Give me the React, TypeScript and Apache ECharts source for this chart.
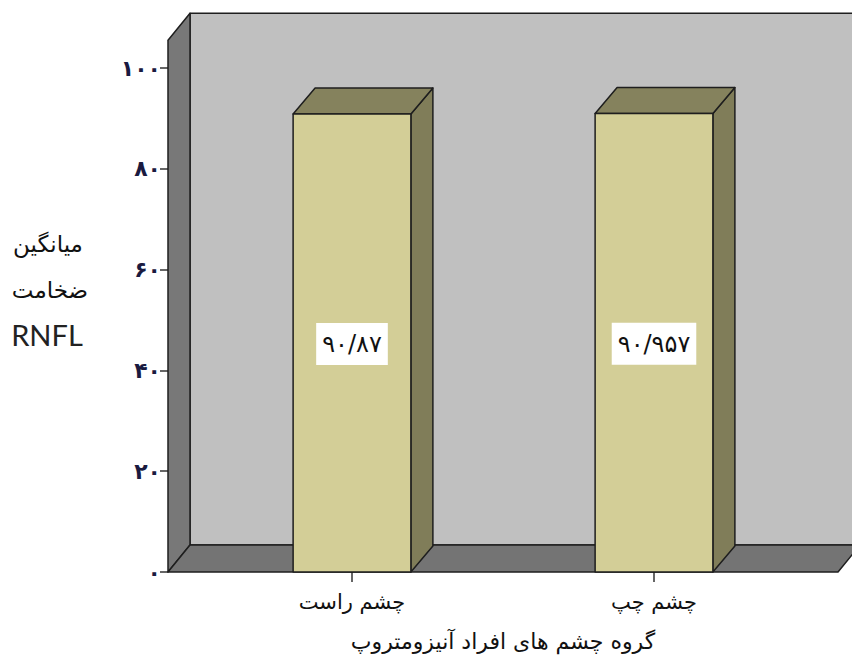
import React, { useEffect, useRef } from "react";
import * as echarts from "echarts";

const categories = ["چشم راست", "چشم چپ"];
const values = [90.87, 90.957];
const valueLabels = ["۹۰/۸۷", "۹۰/۹۵۷"];
const yTicks = [0, 20, 40, 60, 80, 100];
const xAxisTitle = "گروه چشم های افراد آنیزومتروپ";
const yAxisTitleLines = ["میانگین", "ضخامت", "RNFL"];
const WALL_TOP = 105.5;

const FA_DIGITS = ["۰", "۱", "۲", "۳", "۴", "۵", "۶", "۷", "۸", "۹"];
const toFa = (s: string) => s.replace(/[0-9]/g, (d) => FA_DIGITS[+d]);

const PERSIAN_FONT = "'DejaVu Sans', sans-serif";

export default function App() {
  const ref = useRef<HTMLDivElement>(null);
  useEffect(() => {
    document.body.style.margin = "0";
    if (!ref.current) return;
    const chart = echarts.init(ref.current, null, { renderer: "svg" });
    const DX = 22;
    const DY = -27;
    const EXT = 33;
    const option: any = {
      animation: false,
      backgroundColor: "#ffffff",
      grid: { left: 201, right: 47, top: 68, bottom: 86 },
      xAxis: {
        type: "category",
        data: categories,
        axisLine: { show: false },
        axisTick: { show: true, alignWithLabel: true, length: 10, lineStyle: { color: "#333", width: 1.5 } },
        axisLabel: { margin: 19, color: "#111", fontSize: 21, fontFamily: PERSIAN_FONT },
        name: xAxisTitle,
        nameLocation: "middle",
        nameGap: 58,
        nameTextStyle: { color: "#111", fontSize: 22, fontFamily: PERSIAN_FONT },
        splitLine: { show: false },
      },
      yAxis: {
        type: "value",
        min: 0,
        max: 100,
        interval: 20,
        offset: EXT,
        axisLine: { show: false },
        axisTick: { show: true, length: 8, lineStyle: { color: "#333", width: 1.5 } },
        axisLabel: {
          margin: 7,
          color: "#1a1a40",
          fontSize: 22,
          fontWeight: "bold",
          fontFamily: PERSIAN_FONT,
          formatter: (v: number) => (yTicks.includes(v) ? toFa(String(v)) : ""),
        },
        splitLine: { show: false },
      },
      graphic: [
        { type: "text", x: 48, y: 244, style: { text: yAxisTitleLines[0], textAlign: "center", textVerticalAlign: "middle", fontSize: 23, fontFamily: PERSIAN_FONT, fill: "#111" } },
        { type: "text", x: 50, y: 290, style: { text: yAxisTitleLines[1], textAlign: "center", textVerticalAlign: "middle", fontSize: 23, fontFamily: PERSIAN_FONT, fill: "#111" } },
        { type: "text", x: 47, y: 334, style: { text: yAxisTitleLines[2], textAlign: "center", textVerticalAlign: "middle", fontSize: 29, fontFamily: "Lato, 'Open Sans', sans-serif", fill: "#222" } },
      ],
      series: [
        {
          type: "custom",
          z: 1,
          silent: true,
          data: [[0, 0]],
          renderItem: (params: any, api: any) => {
            const cs = params.coordSys;
            const xL = cs.x - EXT;
            const xR = cs.x + cs.width + EXT;
            const y0 = api.coord([0, 0])[1];
            const yT = api.coord([0, WALL_TOP])[1];
            const stroke = { stroke: "#1e1e1e", lineWidth: 1.5, lineJoin: "round" };
            return {
              type: "group",
              children: [
                {
                  type: "polygon",
                  shape: { points: [[xL + DX, yT + DY], [xR + DX + 40, yT + DY], [xR + DX + 40, y0 + DY], [xL + DX, y0 + DY]] },
                  style: { fill: "#c0c0c0", ...stroke },
                },
                {
                  type: "polygon",
                  shape: { points: [[xL, yT], [xL + DX, yT + DY], [xL + DX, y0 + DY], [xL, y0]] },
                  style: { fill: "#787878", ...stroke },
                },
                {
                  type: "polygon",
                  shape: { points: [[xL, y0], [xL + DX, y0 + DY], [xR + DX, y0 + DY], [xR, y0]] },
                  style: { fill: "#747474", ...stroke },
                },
              ],
            };
          },
        },
        {
          type: "custom",
          z: 2,
          data: values.map((v, i) => [i, v]),
          renderItem: (params: any, api: any) => {
            const i = api.value(0);
            const v = api.value(1);
            const top = api.coord([i, v]);
            const base = api.coord([i, 0]);
            const w = api.size([1, 0])[0] * 0.39;
            const x0 = top[0] - w / 2;
            const x1 = top[0] + w / 2;
            const yT = top[1];
            const yB = base[1];
            const dx = 22;
            const dy = -26;
            const stroke = { stroke: "#1e1e1e", lineWidth: 1.5, lineJoin: "round" };
            return {
              type: "group",
              children: [
                {
                  type: "polygon",
                  shape: { points: [[x1, yT], [x1 + dx, yT + dy], [x1 + dx, yB + dy], [x1, yB]] },
                  style: { fill: "#807d59", ...stroke },
                },
                {
                  type: "polygon",
                  shape: { points: [[x0, yT], [x0 + dx, yT + dy], [x1 + dx, yT + dy], [x1, yT]] },
                  style: { fill: "#85825d", ...stroke },
                },
                {
                  type: "rect",
                  shape: { x: x0, y: yT, width: w, height: yB - yT },
                  style: { fill: "#d3ce97", ...stroke },
                },
                {
                  type: "text",
                  x: top[0],
                  y: (yT + yB) / 2 + 1,
                  style: {
                    text: valueLabels[params.dataIndex],
                    textAlign: "center",
                    textVerticalAlign: "middle",
                    fontSize: 24,
                    fontFamily: PERSIAN_FONT,
                    fill: "#111",
                    backgroundColor: "#ffffff",
                    padding: [10, 6, 8, 6],
                  },
                },
              ],
            };
          },
        },
      ],
    };
    chart.setOption(option);
    return () => chart.dispose();
  }, []);
  return <div ref={ref} style={{ width: 852, height: 658 }} />;
}
